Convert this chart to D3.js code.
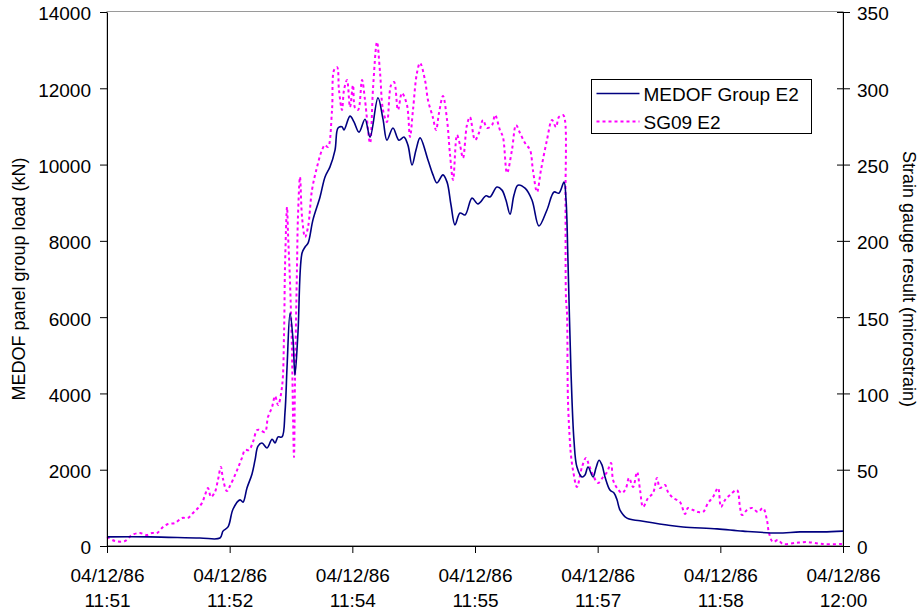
<!DOCTYPE html>
<html>
<head>
<meta charset="utf-8">
<script src="https://cdn.jsdelivr.net/npm/d3@7"></script>
<style>
  body { margin: 0; background: #fff; }
  svg { font-family: "Liberation Sans", Arial, sans-serif; }
</style>
</head>
<body>
<div id="chart"></div>
<script>
// seconds after 11:51:00 and the MEDOF panel group load (kN)
const medofSec = [0, 31.5, 68.1, 82.9, 85.1, 88.8, 92.5, 97.6, 99.8, 102.7,
  106.4, 108.6, 110.8, 113.7, 117.4, 121.1, 123.3, 125.5, 128.4, 130.6,
  132.1, 134.3, 136.5, 137.9, 140.1, 143.1, 145.3, 147.5, 151.1, 156.3,
  159.9, 163.6, 167.3, 169.5, 172.4, 173.9, 178.3, 181.2, 184.9, 189.3,
  193.0, 198.8, 202.5, 205.4, 209.8, 214.2, 217.9, 220.8, 223.8, 226.7,
  229.7, 235.5, 239.2, 242.1, 246.5, 249.5, 252.4, 255.3, 259.0, 262.7,
  267.8, 272.2, 278.1, 281.0, 286.1, 289.8, 292.7, 295.7, 298.6, 301.5,
  306.7, 311.8, 316.9, 322.8, 328.0, 331.6, 335.3, 336.8, 338.2, 340.4,
  342.6, 344.8, 348.5, 350.7, 352.9, 356.6, 358.8, 361.0, 363.2, 365.4,
  369.0, 372.0, 374.2, 376.4, 381.5, 391.1, 410.9, 422.6, 447.6, 466.6,
  491.6, 508.5, 525.3, 540];
const medofLoad = [240, 240, 210, 210, 390, 500, 970, 1210, 1150, 1520,
  1890, 2250, 2620, 2700, 2570, 2800, 2700, 2860, 2860, 3510,
  4690, 6110, 5400, 4480, 5580, 7680, 7840, 7940, 8550, 9150,
  9670, 9940, 10380, 10960, 10990, 10910, 11270, 11120, 10850, 11190,
  10720, 11750, 11190, 10640, 10960, 10640, 10720, 10510, 9990, 10380,
  10700, 10120, 9730, 9520, 9730, 9540, 8940, 8420, 8730, 8680,
  9120, 8970, 9180, 9150, 9410, 9330, 9070, 8700, 9200, 9460,
  9380, 9070, 8390, 8810, 9280, 9250, 9540, 9070, 7500, 4610,
  2780, 2070, 1810, 1860, 2070, 1810, 2050, 2250, 2120, 1810,
  1470, 1390, 1210, 940, 730, 660, 550, 500, 450, 390,
  340, 370, 370, 390];

// seconds after 11:51:00 and the SG09 E2 strain (microstrain)
const sgSec = [0, 5.9, 13.2, 18.3, 24.2, 29.3, 33.0, 36.7, 41.1, 44.8,
  49.9, 55.0, 59.4, 63.1, 66.8, 69.7, 71.9, 74.1, 76.3, 79.2,
  81.4, 83.6, 85.1, 88.0, 90.2, 93.9, 96.1, 99.0, 101.3, 104.2,
  107.1, 110.1, 112.3, 115.9, 118.1, 121.1, 123.3, 125.5, 128.4, 129.9,
  130.6, 132.1, 132.8, 134.3, 135.7, 136.5, 137.2, 137.9, 139.4, 140.1,
  141.6, 143.1, 145.3, 147.5, 150.4, 154.1, 157.7, 159.9, 162.1, 165.1,
  166.6, 168.8, 170.2, 172.4, 173.9, 176.1, 178.3, 180.5, 182.0, 184.2,
  187.1, 189.3, 193.0, 195.2, 198.1, 200.3, 202.5, 205.4, 208.4, 210.6,
  213.5, 216.4, 220.1, 222.3, 224.5, 227.4, 229.7, 233.3, 235.5, 239.2,
  241.4, 243.6, 246.5, 249.5, 251.7, 253.9, 256.8, 259.0, 261.2, 264.1,
  266.3, 270.0, 272.9, 275.9, 278.8, 282.5, 284.7, 288.3, 290.5, 293.5,
  297.1, 300.1, 303.0, 306.7, 310.4, 312.5, 315.5, 318.4, 322.8, 326.5,
  329.4, 331.6, 334.6, 336.0, 336.4, 336.8, 337.5, 338.2, 339.7, 340.4,
  341.9, 344.8, 348.5, 351.4, 353.6, 356.6, 360.2, 363.9, 366.9, 369.8,
  371.3, 374.2, 377.9, 380.8, 383.0, 386.0, 388.9, 391.1, 393.3, 397.0,
  400.6, 403.5, 405.7, 409.4, 411.6, 415.3, 420.4, 424.1, 426.3, 430.0,
  433.6, 437.3, 441.0, 444.6, 448.3, 450.5, 453.4, 457.1, 462.2, 464.4,
  465.9, 469.6, 473.2, 477.6, 481.3, 484.2, 485.7, 488.6, 492.3, 496.0,
  504.8, 513.6, 525.3, 540];
const sgStrain = [5.9, 3.3, 3.3, 7.2, 8.5, 7.2, 8.5, 8.5, 12.5, 14.4,
  15.1, 18.4, 18.4, 21.6, 24.9, 28.2, 33.4, 38.0, 32.1, 35.4,
  43.3, 51.8, 43.9, 36.0, 39.3, 46.5, 51.1, 57.7, 62.9, 62.9,
  68.2, 76.0, 76.0, 74.7, 84.5, 91.1, 98.3, 92.4, 104.2, 139.6,
  182.9, 222.2, 205.1, 172.4, 128.5, 84.5, 58.3, 106.8, 182.9, 215.6,
  241.8, 215.6, 202.5, 209.1, 233.3, 248.4, 259.5, 262.8, 261.5, 285.8,
  312.0, 313.9, 298.9, 285.8, 298.9, 305.4, 287.7, 302.1, 287.1, 285.8,
  305.4, 292.3, 264.1, 300.2, 330.3, 310.7, 285.8, 277.9, 302.1, 304.1,
  285.8, 296.9, 289.0, 268.1, 285.8, 310.0, 316.6, 305.4, 292.3, 280.5,
  272.6, 283.8, 294.9, 279.2, 256.3, 239.9, 269.4, 262.8, 254.3, 275.9,
  281.2, 266.1, 270.7, 279.2, 274.0, 275.9, 282.5, 272.6, 268.1, 244.5,
  259.5, 275.9, 270.7, 264.1, 259.5, 246.4, 232.0, 246.4, 266.1, 279.2,
  274.6, 281.2, 282.5, 279.2, 226.8, 161.3, 152.7, 95.7, 67.5, 59.6,
  49.8, 38.7, 51.8, 57.7, 53.1, 46.5, 41.3, 45.2, 48.5, 54.4,
  43.3, 38.0, 34.7, 38.0, 44.6, 38.7, 48.5, 36.7, 25.6, 31.5,
  34.7, 44.6, 38.0, 40.0, 35.4, 31.5, 28.8, 21.0, 24.9, 23.6,
  22.3, 22.3, 28.2, 32.1, 38.0, 25.6, 30.1, 33.4, 36.7, 25.6,
  20.3, 23.6, 24.9, 22.3, 24.9, 17.0, 8.5, 2.6, 3.9, 1.3,
  2.0, 2.6, 1.3, 1.3];

const loadTicks = [0, 2000, 4000, 6000, 8000, 10000, 12000, 14000];
const strainTicks = [0, 50, 100, 150, 200, 250, 300, 350];
const tickStepSec = [0, 90, 180, 270, 360, 450, 540];
const seriesNames = ["MEDOF Group E2", "SG09 E2"];

const width = 921, height = 609;
const margin = { top: 12, right: 78, bottom: 63, left: 107 };
const start = new Date(1986, 11, 4, 11, 51, 0);
const toDate = s => new Date(start.getTime() + s * 1000);

const x = d3.scaleTime()
  .domain([start, toDate(540)])
  .range([margin.left, width - margin.right]);
const yLoad = d3.scaleLinear().domain([0, 14000]).range([height - margin.bottom, margin.top]);
const yStrain = d3.scaleLinear().domain([0, 350]).range([height - margin.bottom, margin.top]);

const svg = d3.select("#chart").append("svg")
  .attr("width", width)
  .attr("height", height);

// plot area border (grey, shows at top)
svg.append("rect")
  .attr("x", margin.left).attr("y", margin.top - 0.5)
  .attr("width", width - margin.right - margin.left)
  .attr("height", height - margin.bottom - margin.top)
  .attr("fill", "none").attr("stroke", "#9a9a9a").attr("stroke-width", 1);

const medof = medofSec.map((s, i) => ({ t: toDate(s), v: medofLoad[i] }));
const sg = sgSec.map((s, i) => ({ t: toDate(s), v: sgStrain[i] }));

svg.append("path")
  .datum(sg)
  .attr("fill", "none")
  .attr("stroke", "#ff00ff")
  .attr("stroke-width", 2)
  .attr("stroke-dasharray", "3,3")
  .attr("d", d3.line().x(d => x(d.t)).y(d => yStrain(d.v)).curve(d3.curveCatmullRom.alpha(0.5)));

svg.append("path")
  .datum(medof)
  .attr("fill", "none")
  .attr("stroke", "#000080")
  .attr("stroke-width", 1.6)
  .attr("d", d3.line().x(d => x(d.t)).y(d => yLoad(d.v)).curve(d3.curveCatmullRom.alpha(0.5)));

// axes
const fontSize = 19;
const leftAxis = svg.append("g")
  .attr("transform", `translate(${margin.left},0)`)
  .call(d3.axisLeft(yLoad).tickValues(loadTicks).tickFormat(d3.format("d"))
    .tickSize(7).tickSizeOuter(0).tickPadding(9));

const rightAxis = svg.append("g")
  .attr("transform", `translate(${width - margin.right},0)`)
  .call(d3.axisRight(yStrain).tickValues(strainTicks).tickFormat(d3.format("d"))
    .tickSize(7).tickSizeOuter(0).tickPadding(7));
rightAxis.selectAll(".tick line").attr("x1", -6);

const fmtDate = d3.timeFormat("%d/%m/%y");
const fmtTime = d3.timeFormat("%H:%M");
const bottomAxis = svg.append("g")
  .attr("transform", `translate(0,${height - margin.bottom})`)
  .call(d3.axisBottom(x).tickValues(tickStepSec.map(toDate))
    .tickFormat("").tickSize(7).tickSizeOuter(0));
bottomAxis.selectAll(".tick text").remove();
bottomAxis.selectAll(".tick").append("text")
  .attr("text-anchor", "middle").attr("y", 35.5).attr("fill", "#000")
  .text(d => fmtDate(d));
bottomAxis.selectAll(".tick").append("text")
  .attr("text-anchor", "middle").attr("y", 60.5).attr("fill", "#000")
  .text(d => fmtTime(d));

svg.selectAll(".domain, .tick line").attr("stroke", "#000");
svg.selectAll(".tick text")
  .attr("font-size", fontSize).attr("fill", "#000")
  .attr("font-family", "'Liberation Sans', Arial, sans-serif");
leftAxis.selectAll(".tick text").attr("dy", "0.42em");
rightAxis.selectAll(".tick text").attr("dy", "0.42em");

// axis titles
const midY = (margin.top + height - margin.bottom) / 2;
svg.append("text")
  .attr("transform", `translate(25,${midY}) rotate(-90)`)
  .attr("text-anchor", "middle")
  .attr("font-size", 18)
  .text("MEDOF panel group load (kN)");
svg.append("text")
  .attr("transform", `translate(903,${midY}) rotate(90)`)
  .attr("text-anchor", "middle")
  .attr("font-size", 18)
  .text("Strain gauge result (microstrain)");

// legend
const legend = svg.append("g").attr("transform", "translate(591.5,79.5)");
legend.append("rect")
  .attr("width", 220).attr("height", 54)
  .attr("fill", "#fff").attr("stroke", "#000").attr("stroke-width", 1);
const legendStyles = [
  { stroke: "#000080", width: 1.6, dash: null, y: 14 },
  { stroke: "#ff00ff", width: 2, dash: "3,3", y: 42 }
];
legendStyles.forEach((s, i) => {
  legend.append("line")
    .attr("x1", 5).attr("x2", 48).attr("y1", s.y).attr("y2", s.y)
    .attr("stroke", s.stroke).attr("stroke-width", s.width)
    .attr("stroke-dasharray", s.dash);
  legend.append("text")
    .attr("x", 52).attr("y", s.y + 7)
    .attr("font-size", fontSize)
    .text(seriesNames[i]);
});
</script>
</body>
</html>
